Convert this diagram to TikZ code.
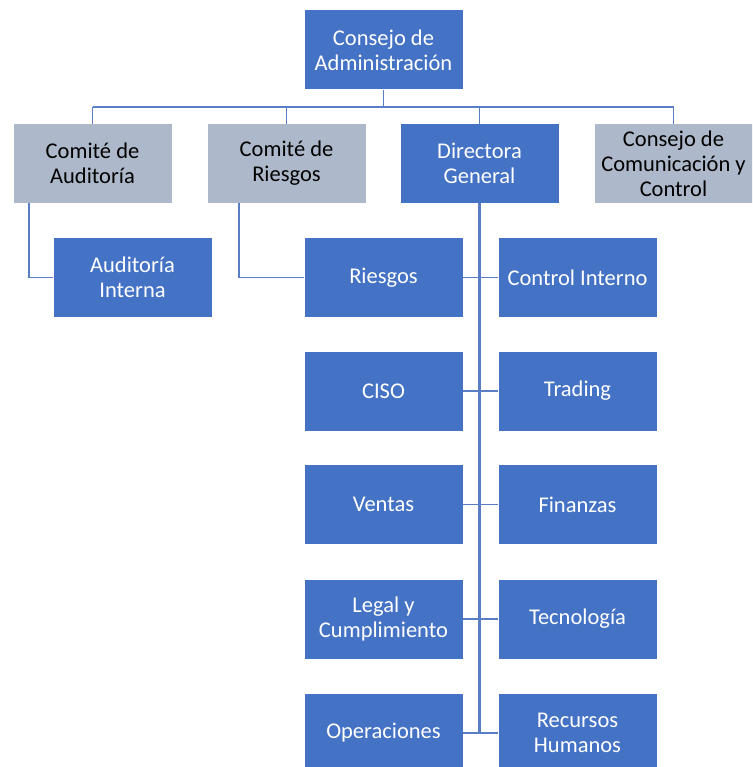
\documentclass[tikz,border=0pt]{standalone}
\usepackage{fontspec}
\setmainfont{Carlito}
\definecolor{boxblue}{HTML}{4472C4}
\definecolor{boxgray}{HTML}{ADB9CA}
\definecolor{linkblue}{HTML}{5A7EC6}
\begin{document}
\begin{tikzpicture}[x=1pt,y=-1pt,
  base/.style={rectangle,minimum width=158pt,minimum height=79pt,inner sep=1pt,align=center,
    font=\fontsize{22.5}{25}\selectfont},
  bluebox/.style={base,fill=boxblue,text=white},
  graybox/.style={base,fill=boxgray,text=black},
  link/.style={draw=linkblue,line width=1.6pt},
  trunk/.style={draw=linkblue,line width=2.6pt}]
\useasboundingbox (0,0) rectangle (752,767);
\clip (0,0) rectangle (752,767);
% top
\node[bluebox] (top) at (383.5,50) {Consejo de\\Administración};
% second row
\node[graybox] (ca) at (92.5,163.5) {Comité de\\Auditoría};
\node[graybox] (cr) at (286.5,163.5) {Comité de\\Riesgos};
\node[bluebox] (dg) at (479.5,163.5) {Directora\\General};
\node[graybox] (cc) at (673.5,163.5) {Consejo de\\Comunicación y\\Control};
% auditoria interna
\node[bluebox] (ai) at (132.5,277.5) {Auditoría\\Interna};
% columns
\node[bluebox] (l1) at (383.5,277.5) {Riesgos};
\node[bluebox] (r1) at (577.5,277.5) {Control Interno};
\node[bluebox] (l2) at (383.5,391) {CISO};
\node[bluebox] (r2) at (577.5,391) {Trading};
\node[bluebox] (l3) at (383.5,504.5) {Ventas};
\node[bluebox] (r3) at (577.5,504.5) {Finanzas};
\node[bluebox] (l4) at (383.5,619) {Legal y\\Cumplimiento};
\node[bluebox] (r4) at (577.5,619) {Tecnología};
\node[bluebox] (l5) at (383.5,733) {Operaciones};
\node[bluebox] (r5) at (577.5,733) {Recursos\\Humanos};
% bus
\coordinate (bus) at (0,107);
\draw[link] (top.south) -- (top.south |- bus);
\draw[link] (ca.north |- bus) -- (cc.north |- bus);
\foreach \n in {ca,cr,dg,cc} \draw[link] (\n.north |- bus) -- (\n.north);
% committees
\draw[link] ([xshift=-63.5pt]ca.south) |- (ai.west);
\draw[link] ([xshift=-47.5pt]cr.south) |- (l1.west);
% directora trunk
\coordinate (tend) at (0,733);
\draw[trunk] (dg.south) -- (dg.south |- tend);
\foreach \i in {1,...,5} \draw[link] (l\i.east) -- (r\i.west);
\end{tikzpicture}
\end{document}
